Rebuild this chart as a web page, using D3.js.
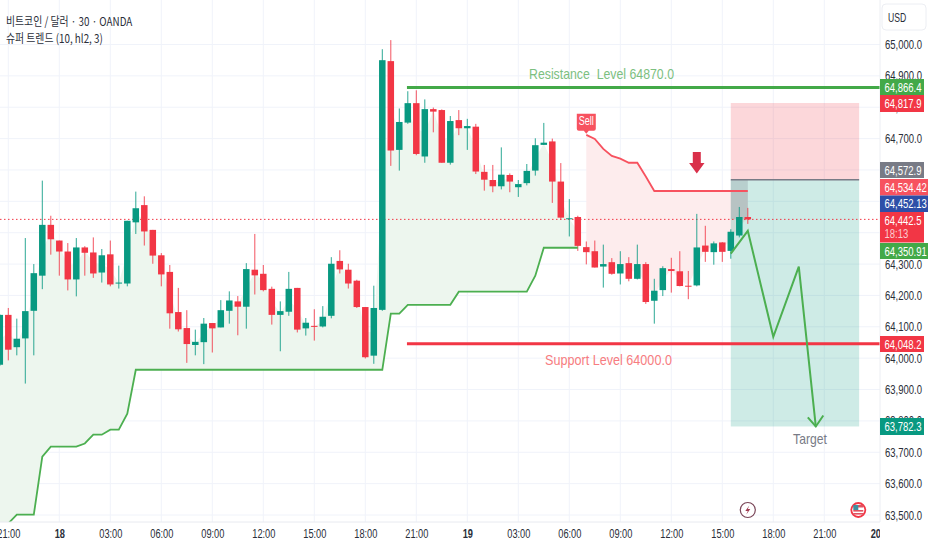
<!DOCTYPE html>
<html>
<head>
<meta charset="utf-8">
<script src="https://cdn.jsdelivr.net/npm/d3@7"></script>
<style>
  html, body { margin: 0; padding: 0; background: #fff; }
  text { font-family: "Liberation Sans", sans-serif; }
  .kr { font-family: "Noto Sans CJK KR", sans-serif; }
</style>
</head>
<body>
<div id="chart"></div>
<script>
// candles, first bar sits one step left of the 21:00 gridline
const firstBar = -1;
const opens = [63979,64138,64035,64063,64151,64263,64425,64375,64340,64251,64353,64337,64273,64331,64238,64238,64433,64488,64409,64328,64275,64147,64096,64042,64051,64112,64098,64151,64181,64164,64282,64269,64221,64138,64148,64224,64095,64103,64101,64135,64310,64282,64247,64163,64008,64154,64947,64664,64751,64813,64643,64794,64791,64623,64759,64733,64738,64594,64568,64548,64584,64545,64558,64598,64680,64691,64563,64444,64450,64354,64341,64292,64306,64270,64303,64253,64300,64183,64217,64284,64277,64231,64232,64359,64338,64369,64342,64391,64450];
const highs = [64140,64160,64126,64383,64300,64566,64454,64375,64367,64383,64357,64385,64348,64375,64295,64438,64531,64516,64409,64335,64297,64224,64153,64091,64128,64112,64185,64213,64198,64303,64396,64297,64228,64181,64275,64224,64128,64156,64166,64322,64344,64301,64250,64163,64231,64985,65014,64796,64851,64854,64825,64799,64793,64772,64791,64763,64747,64616,64616,64672,64589,64568,64619,64701,64750,64700,64622,64507,64454,64372,64375,64362,64319,64341,64322,64362,64306,64253,64293,64320,64341,64278,64460,64422,64372,64370,64411,64482,64479];
const lows = [63975,63993,64009,63919,64009,64220,64330,64263,64216,64197,64263,64256,64241,64229,64222,64229,64396,64359,64301,64229,64094,64085,63985,64009,63981,64018,64098,64110,64073,64094,64203,64213,64107,64022,64135,64082,64072,64056,64098,64127,64270,64222,64160,63999,63982,64151,64613,64598,64747,64647,64623,64720,64623,64617,64711,64664,64587,64534,64529,64538,64529,64514,64551,64582,64680,64495,64441,64388,64342,64299,64289,64225,64266,64235,64245,64251,64173,64110,64198,64209,64229,64188,64229,64307,64298,64307,64317,64385,64428];
const closes = [64138,64027,64062,64150,64271,64425,64379,64340,64251,64353,64336,64270,64328,64235,64241,64438,64478,64404,64327,64267,64143,64092,64045,64052,64110,64095,64153,64184,64164,64284,64264,64217,64138,64150,64221,64091,64113,64101,64132,64301,64283,64238,64163,64003,64160,64950,64662,64753,64813,64651,64794,64786,64623,64756,64733,64740,64595,64569,64548,64585,64563,64555,64597,64679,64687,64563,64448,64446,64358,64338,64289,64300,64269,64300,64253,64300,64179,64215,64287,64278,64230,64229,64353,64339,64366,64339,64403,64450,64442.5];

// super trend, one value per bar
const upStart = -1;
const trendUp = [63440,63473,63501,63501,63501,63686,63718,63718,63718,63718,63728,63756,63756,63772,63772,63823,63963,63963,63963,63963,63963,63963,63963,63963,63963,63963,63963,63963,63963,63963,63963,63963,63963,63963,63963,63963,63963,63963,63963,63963,63963,63963,63963,63963,63963,63963,64142,64142,64170,64170,64170,64170,64170,64170,64212,64212,64212,64212,64212,64212,64212,64212,64212,64263,64352,64352,64352,64352,64352];
const downStart = 68;
const trendDown = [64712,64699,64667,64645,64636,64623,64623,64579,64533,64533,64533,64533,64533,64533,64533,64533,64533,64533,64533,64533];

// hand drawn forecast path
const pathBars = [85,87,90,93,95];
const pathPrices = [64333,64406,64068,64292,63782];

const resistance = 64863;
const support = 64046;
const lastPrice = 64442.5;
const posTop = 64813.5, posEntry = 64568.5, posBottom = 63782.3;

const priceTicks = [65000,64900,64800,64700,64600,64500,64400,64300,64200,64100,64000,63900,63800,63700,63600,63500];
const timeBars = [0,6,12,18,24,30,36,42,48,54,60,66,72,78,84,90,96,102];
const timeLabels = ['21:00','18','03:00','06:00','09:00','12:00','15:00','18:00','21:00','19','03:00','06:00','09:00','12:00','15:00','18:00','21:00','20'];
const boldLabels = ['18','19','20'];

const pillTexts = ['64,866.4','64,817.9','64,572.9','64,534.42','64,452.13','64,442.5','64,350.91','64,048.2','63,782.3'];
const pillColors = ['#43a948','#f23645','#787b86','#f7525f','#2e4fa8','#f23645','#43a948','#f23645','#089981'];
const pillTops = [79,95,162,179,195.5,212,243,336,418];
const pillHeights = [16,17,16,16.5,16.5,30.5,16,16,17];
const pillWidths = [44,44,44,48,48,44,48,44,44];

const width = 932, height = 550, plotW = 880, plotH = 522;
const green = '#089981', red = '#f23645', gridColor = '#f0f3fa';

const x = d3.scaleLinear().domain([0, 102]).range([8.3, 875.3]);
const y = d3.scaleLinear().domain([63500, 65000]).range([515, 44.5]);

// the reference type is a squeezed sans, so every label gets pressed in width
function narrow(sel, k) {
  sel.each(function() {
    this.setAttribute('textLength', this.getComputedTextLength() * k);
    this.setAttribute('lengthAdjust', 'spacingAndGlyphs');
  });
  return sel;
}

const svg = d3.select('#chart').append('svg')
  .attr('width', width)
  .attr('height', height)
  .style('display', 'block');

svg.append('clipPath').attr('id', 'plot')
  .append('rect').attr('width', plotW).attr('height', plotH);

const bars = opens.map((o, i) => ({
  i: i + firstBar, o, h: highs[i], l: lows[i], c: closes[i]
}));
const mid = i => { const b = bars[i - firstBar]; return (b.o + b.c) / 2; };

// grid
svg.append('g').selectAll('line').data(priceTicks).enter().append('line')
  .attr('x1', 0).attr('x2', plotW)
  .attr('y1', d => y(d)).attr('y2', d => y(d))
  .attr('stroke', gridColor);
svg.append('g').selectAll('line').data(timeBars.slice(0, -1)).enter().append('line')
  .attr('x1', d => x(d)).attr('x2', d => x(d))
  .attr('y1', 0).attr('y2', plotH)
  .attr('stroke', gridColor);

const chart = svg.append('g').attr('clip-path', 'url(#plot)');

// super trend fills
const upData = trendUp.map((v, k) => ({ i: k + upStart, v }));
const downData = trendDown.map((v, k) => ({ i: k + downStart, v }));
chart.append('path').datum(upData)
  .attr('d', d3.area().x(d => x(d.i)).y0(d => y(d.v)).y1(d => y(mid(d.i))))
  .attr('fill', '#edf6ee');
chart.append('path').datum(downData)
  .attr('d', d3.area().x(d => x(d.i)).y0(d => y(d.v)).y1(d => y(mid(d.i))))
  .attr('fill', '#fdeced');

// long/short position boxes
const boxLeft = x(85), boxRight = x(100.1);
chart.append('rect').attr('x', boxLeft).attr('width', boxRight - boxLeft)
  .attr('y', y(posTop)).attr('height', y(posEntry) - y(posTop))
  .attr('fill', red).attr('fill-opacity', 0.2);
chart.append('rect').attr('x', boxLeft).attr('width', boxRight - boxLeft)
  .attr('y', y(posEntry)).attr('height', y(posBottom) - y(posEntry))
  .attr('fill', green).attr('fill-opacity', 0.2);
chart.append('rect').attr('x', boxLeft).attr('width', x(87) - boxLeft)
  .attr('y', y(posEntry)).attr('height', y(lastPrice) - y(posEntry))
  .attr('fill', '#787b86').attr('fill-opacity', 0.25);
chart.append('line').attr('x1', boxLeft).attr('x2', boxRight)
  .attr('y1', y(posEntry)).attr('y2', y(posEntry))
  .attr('stroke', '#787b86').attr('stroke-width', 1.5);

// last price line
chart.append('line').attr('x1', 0).attr('x2', plotW)
  .attr('y1', y(lastPrice)).attr('y2', y(lastPrice))
  .attr('stroke', red).attr('stroke-dasharray', '1.5,2.5');

// candles
const candle = chart.append('g').selectAll('g').data(bars).enter().append('g');
candle.append('line')
  .attr('x1', d => x(d.i)).attr('x2', d => x(d.i))
  .attr('y1', d => y(d.h)).attr('y2', d => y(d.l))
  .attr('stroke', d => d.c >= d.o ? green : red)
  .attr('stroke-opacity', 0.85);
candle.append('rect')
  .attr('x', d => x(d.i) - 3.25).attr('width', 6.5)
  .attr('y', d => y(Math.max(d.o, d.c)))
  .attr('height', d => Math.max(1, Math.abs(y(d.o) - y(d.c))))
  .attr('fill', d => d.c >= d.o ? green : red);

// super trend lines
const trendLine = d3.line().x(d => x(d.i)).y(d => y(d.v));
chart.append('path').datum(upData).attr('d', trendLine)
  .attr('fill', 'none').attr('stroke', '#4caf50').attr('stroke-width', 1.8);
chart.append('path').datum(downData).attr('d', trendLine)
  .attr('fill', 'none').attr('stroke', '#f7525f').attr('stroke-width', 1.8);

// support and resistance
chart.append('line').attr('x1', x(46.9)).attr('x2', plotW)
  .attr('y1', y(resistance)).attr('y2', y(resistance))
  .attr('stroke', '#43a948').attr('stroke-width', 3);
chart.append('line').attr('x1', x(46.9)).attr('x2', plotW)
  .attr('y1', y(support)).attr('y2', y(support))
  .attr('stroke', red).attr('stroke-width', 3);

// forecast path and arrow head
const pathData = pathBars.map((b, k) => ({ i: b, v: pathPrices[k] }));
chart.append('path').datum(pathData).attr('d', trendLine)
  .attr('fill', 'none').attr('stroke', '#4caf50').attr('stroke-width', 2);
const tip = [x(95), y(posBottom)];
chart.append('path')
  .attr('d', `M${tip[0] - 8},${tip[1] - 9}L${tip[0]},${tip[1]}L${tip[0] + 7.5},${tip[1] - 11}`)
  .attr('fill', 'none').attr('stroke', '#4caf50').attr('stroke-width', 2);

// sell flag
const sellX = x(68), sellY = y(trendDown[0]);
chart.append('path')
  .attr('d', `M${sellX - 9.5},${sellY - 21}h19v15a2,2 0 0 1 -2,2h-5l-2.5,3l-2.5,-3h-5a2,2 0 0 1 -2,-2z`)
  .attr('fill', '#f7525f');
narrow(chart.append('text').attr('x', sellX).attr('y', sellY - 9.5)
  .attr('text-anchor', 'middle').attr('font-size', 12).attr('fill', '#fff').text('Sell'), 0.75);

// big down arrow
const ax = x(81), ay = 152;
chart.append('path')
  .attr('d', `M${ax - 4},${ay}h8v11h3.7l-7.7,10.5l-7.7,-10.5h3.7z`)
  .attr('fill', '#d9304a');

// chart notes
narrow(svg.append('text').attr('x', 601.5).attr('y', 79).attr('text-anchor', 'middle')
  .style('white-space', 'pre')
  .attr('font-size', 15).attr('fill', '#7cc080').text('Resistance  Level 64870.0'), 0.82);
narrow(svg.append('text').attr('x', 608.5).attr('y', 365).attr('text-anchor', 'middle')
  .attr('font-size', 15).attr('fill', '#f77c80').text('Support Level 64000.0'), 0.84);
narrow(svg.append('text').attr('x', 810).attr('y', 444).attr('text-anchor', 'middle')
  .attr('font-size', 15).attr('fill', '#787b86').text('Target'), 0.81);

// event icons
const bolt = svg.append('g').attr('transform', `translate(${x(87)},510)`);
bolt.append('circle').attr('r', 7.5).attr('fill', '#fff').attr('stroke', '#7a4658').attr('stroke-width', 1.2);
bolt.append('path').attr('d', 'M1.5,-4.5L-2.5,1H0L-1.5,4.5L2.5,-1H0z').attr('fill', '#a03a50');
const flag = svg.append('g').attr('transform', `translate(${x(100)},510)`);
flag.append('circle').attr('r', 7).attr('fill', '#fff').attr('stroke', '#f23645').attr('stroke-width', 1.8);
flag.append('rect').attr('x', -5).attr('y', -5).attr('width', 10).attr('height', 2.5).attr('fill', '#e05260');
flag.append('rect').attr('x', -5).attr('y', 0).attr('width', 10).attr('height', 1.6).attr('fill', '#e05260');
flag.append('rect').attr('x', -5).attr('y', 3).attr('width', 10).attr('height', 1.6).attr('fill', '#e05260');
flag.append('rect').attr('x', -5).attr('y', -5).attr('width', 5).attr('height', 5).attr('fill', '#3f8f9f');

// time axis
const timeAxis = d3.axisBottom(x)
  .tickValues(timeBars)
  .tickSize(0)
  .tickPadding(7)
  .tickFormat((d, k) => timeLabels[k]);
const tg = svg.append('g').attr('transform', `translate(0,${plotH})`).call(timeAxis);
tg.select('.domain').attr('stroke', '#e8eaf0').attr('d', `M0,0H${plotW}`);
narrow(tg.selectAll('text')
  .attr('font-size', 12.5)
  .attr('font-family', '"Liberation Sans", sans-serif')
  .attr('fill', '#2a2e39')
  .attr('font-weight', d => boldLabels.includes(timeLabels[timeBars.indexOf(d)]) ? 'bold' : null), 0.74);
// the last label runs under the price scale, white panel below cuts it
svg.append('rect').attr('x', plotW).attr('y', plotH).attr('width', width - plotW).attr('height', height - plotH).attr('fill', '#fff');

// price axis
const priceAxis = d3.axisRight(y)
  .tickValues(priceTicks)
  .tickSize(0)
  .tickPadding(5)
  .tickFormat(d3.format(',.1f'));
const pg = svg.append('g').attr('transform', `translate(${plotW},0)`).call(priceAxis);
pg.select('.domain').attr('stroke', '#eceef3').attr('d', `M0,0V${plotH}`);
narrow(pg.selectAll('text')
  .attr('font-size', 12.5)
  .attr('font-family', '"Liberation Sans", sans-serif')
  .attr('fill', '#2a2e39'), 0.76);

// price scale labels
const pills = svg.append('g').selectAll('g').data(pillTexts).enter().append('g');
pills.append('rect')
  .attr('x', plotW)
  .attr('y', (d, k) => pillTops[k])
  .attr('width', (d, k) => pillWidths[k])
  .attr('height', (d, k) => pillHeights[k])
  .attr('fill', (d, k) => pillColors[k]);
narrow(pills.append('text')
  .attr('x', plotW + 4.5)
  .attr('y', (d, k) => pillTops[k] + 12.5)
  .attr('font-size', 12.5)
  .attr('fill', '#fff')
  .text(d => d), 0.76);
narrow(svg.append('text').attr('x', plotW + 4.5).attr('y', 238).attr('font-size', 12.5)
  .attr('fill', '#fff').attr('fill-opacity', 0.75).text('18:13'), 0.76);

// currency button
svg.append('rect').attr('x', 882).attr('y', 4).attr('width', 44).attr('height', 26).attr('rx', 4)
  .attr('fill', '#fff').attr('stroke', '#eceef3');
narrow(svg.append('text').attr('x', 888).attr('y', 21.5).attr('font-size', 12).attr('fill', '#2a2e39').text('USD'), 0.72);

// legend
narrow(svg.append('text').attr('class', 'kr').attr('x', 6).attr('y', 25.5).attr('font-size', 12)
  .attr('fill', '#2a2e39').text('비트코인 / 달러 · 30 · OANDA'), 0.82);
narrow(svg.append('text').attr('class', 'kr').attr('x', 6).attr('y', 42.5).attr('font-size', 12)
  .attr('fill', '#2a2e39').text('슈퍼 트렌드 (10, hl2, 3)'), 0.82);
</script>
</body>
</html>
